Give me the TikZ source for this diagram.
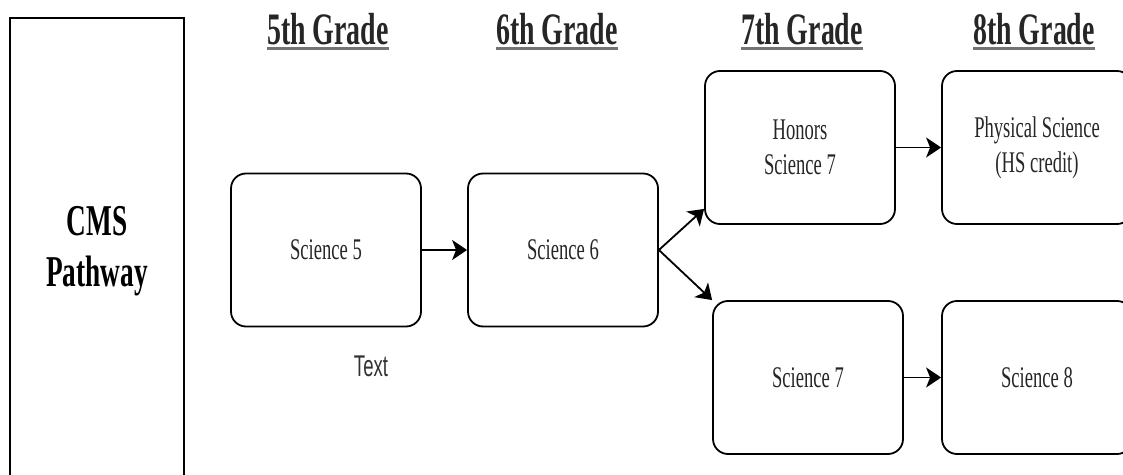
\documentclass[tikz,border=0pt]{standalone}
\usepackage{fontspec}
\setmainfont[FakeStretch=0.62]{Liberation Serif}
\newfontfamily\notesans[FakeStretch=0.62]{Liberation Sans}
\usetikzlibrary{arrows.meta}

\begin{document}
\begin{tikzpicture}[x=1pt, y=1pt, thick,
    course/.style = {shape=rectangle, rounded corners=15pt, draw, line width=1.8pt,
        minimum width=190pt, minimum height=153pt, align=center,
        font=\fontsize{30}{35}\selectfont, text=black!85},
    grade/.style = {font=\fontsize{45}{50}\selectfont\bfseries, text=black!85,
        inner sep=0pt, anchor=base},
    uline/.style = {line width=3pt, black!55},
    arr/.style = {-{Stealth[length=15pt,width=20pt,inset=4pt]}, line width=1.8pt}]
  \useasboundingbox (0,0) rectangle (1123,474);
  \clip (0,0) rectangle (1123,474);
  % left label box (runs off the page)
  \node [draw, line width=1.8pt, minimum width=174pt, minimum height=466pt,
         align=center, font=\fontsize{44}{51}\selectfont\bfseries] (pathway)
         at (97,223) {CMS\\Pathway};
  % grade headings
  \node [grade] (g5) at (328,429) {5th Grade};
  \node [grade] (g6) at (557,429) {6th Grade};
  \node [grade] (g7) at (802,429) {7th Grade};
  \node [grade] (g8) at (1034,429) {8th Grade};
  \foreach \g in {g5,g6,g7,g8}
    \draw [uline] ([yshift=-4pt]\g.base west) -- ([yshift=-4pt]\g.base east);
  % courses
  \node [course] (sci5) at (326,224) {Science 5};
  \node [course] (sci6) at (563,224) {Science 6};
  \node [course] (hon7) at (800,326.5) {Honors\\Science 7};
  \node [course] (sci7) at (808,96.5) {Science 7};
  \node [course] (phys) at (1037,326.5) {Physical Science\\(HS credit)};
  \node [course] (sci8) at (1037,96.5) {Science 8};
  \node [font=\notesans\fontsize{30}{35}\selectfont, text=black!80] (note)
        at (371,108) {Text};
  % arrows
  \draw [arr] (sci5.east) -- (sci6.west);
  \draw [arr] (sci6.east) -- ([yshift=16pt]hon7.south west);
  \draw [arr] (sci6.east) -- (sci7.north west);
  \draw [arr] (hon7.east) -- (phys.west);
  \draw [arr] (sci7.east) -- (sci8.west);
\end{tikzpicture}
\end{document}
